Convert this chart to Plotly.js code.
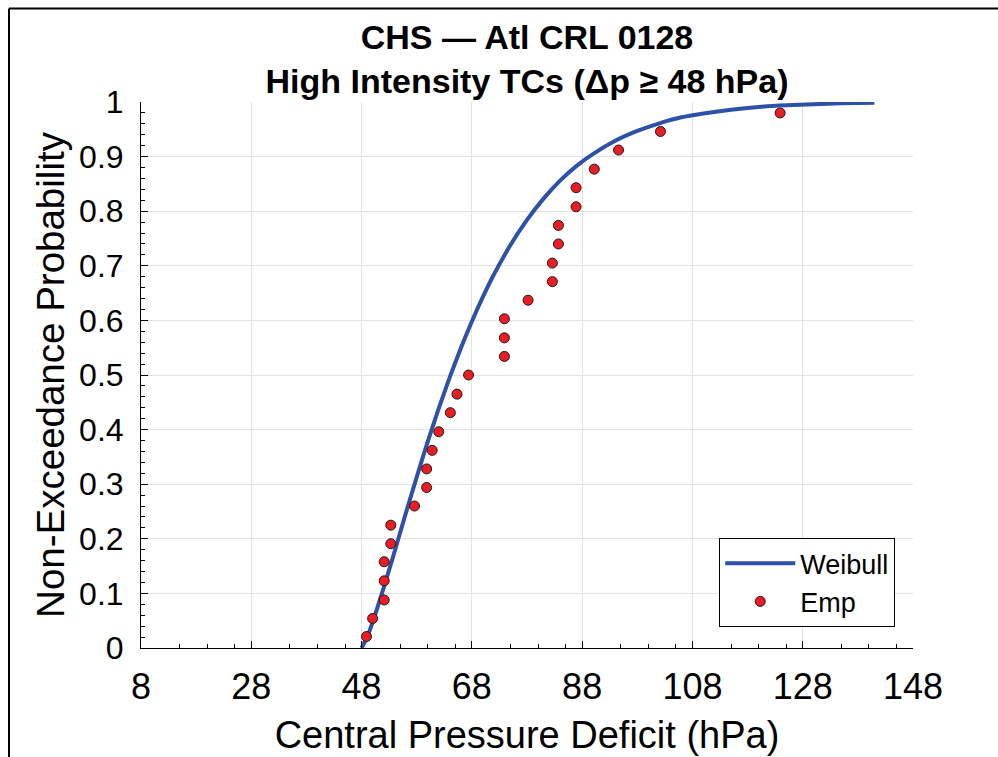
<!DOCTYPE html>
<html>
<head>
<meta charset="utf-8">
<script src="https://cdn.plot.ly/plotly-3.0.1.min.js"></script>
<style>
html,body{margin:0;padding:0;background:#fff;}
#chart{width:998px;height:757px;}
</style>
</head>
<body>
<div id="chart"></div>
<script>
// Empirical non-exceedance points (central pressure deficit, hPa)
const empX = [48.9, 50.0, 52.1, 52.1, 52.1, 53.3, 53.3, 57.6, 59.8, 59.8,
              60.8, 62.0, 64.1, 65.3, 67.4, 73.9, 73.9, 73.9, 78.2, 82.6,
              82.6, 83.7, 83.7, 86.9, 86.9, 90.2, 94.6, 102.2, 123.9];
const empY = [0.021, 0.054, 0.088, 0.123, 0.158, 0.191, 0.225, 0.260, 0.294, 0.328,
              0.362, 0.396, 0.431, 0.465, 0.500, 0.534, 0.568, 0.603, 0.637, 0.671,
              0.705, 0.740, 0.774, 0.808, 0.843, 0.877, 0.912, 0.946, 0.980];

// Fitted Weibull CDF
const weibX = [48, 49, 50, 52, 54, 56, 58, 60, 62, 64, 66, 68, 70, 72, 75, 78, 81, 84,
               87, 90, 94, 98, 102, 106, 110, 115, 120, 125, 130, 135, 141];
const weibY = [0, 0.020, 0.047, 0.110, 0.177, 0.246, 0.313, 0.378, 0.439, 0.496, 0.549,
               0.598, 0.643, 0.684, 0.738, 0.784, 0.823, 0.856, 0.883, 0.905, 0.929,
               0.947, 0.961, 0.972, 0.979, 0.986, 0.991, 0.994, 0.996, 0.9975, 0.9985];

const xTicks = [8, 28, 48, 68, 88, 108, 128, 148];
const xMinor = [15, 20, 25, 35, 40, 45, 55, 60, 65, 75, 80, 85, 95, 100, 105, 115, 120, 125, 135, 140, 145];
const yTicks = [0, 0.1, 0.2, 0.3, 0.4, 0.5, 0.6, 0.7, 0.8, 0.9, 1];
const yTickText = ['0', '0.1', '0.2', '0.3', '0.4', '0.5', '0.6', '0.7', '0.8', '0.9', '1'];

const FONT = 'Liberation Sans, Arial, Helvetica, sans-serif';

const traces = [
  {
    x: weibX, y: weibY, type: 'scatter', mode: 'lines', name: 'Weibull',
    line: {color: '#2d50a8', width: 4, shape: 'spline', smoothing: 0.6}
  },
  {
    x: empX, y: empY, type: 'scatter', mode: 'markers', name: 'Emp',
    marker: {color: '#ec1c24', size: 10, line: {color: '#1a1a1a', width: 1}}
  }
];

const layout = {
  width: 998, height: 757,
  margin: {l: 141, r: 85, t: 102, b: 109},
  paper_bgcolor: '#ffffff', plot_bgcolor: '#ffffff',
  font: {family: FONT, color: '#000'},
  showlegend: true,
  title: {
    text: '<b>CHS \u2014 Atl CRL 0128</b><br><b>High Intensity TCs (\u0394p \u2265 48 hPa)</b>',
    font: {family: FONT, size: 34, color: '#000'},
    x: 0.5, xref: 'paper', xanchor: 'center',
    y: 1 - 49 / 757, yref: 'container', yanchor: 'middle'
  },
  xaxis: {
    range: [8, 148], tickmode: 'array', tickvals: xTicks,
    ticks: 'inside', ticklen: 7, tickwidth: 1, tickcolor: '#000',
    showline: true, linecolor: '#000', linewidth: 1, mirror: false,
    showgrid: true, gridcolor: '#e3e3e3', gridwidth: 1, zeroline: false,
    tickfont: {family: FONT, size: 36, color: '#000'},
    ticklabelstandoff: 7,
    minor: {tickmode: 'array', tickvals: xMinor, ticks: 'inside', ticklen: 4, tickwidth: 1, tickcolor: '#000', showgrid: false},
    title: {text: 'Central Pressure Deficit (hPa)', font: {family: FONT, size: 38, color: '#000'}, standoff: 15}
  },
  yaxis: {
    range: [0, 1], tickmode: 'array', tickvals: yTicks, ticktext: yTickText,
    ticks: 'inside', ticklen: 7, tickwidth: 1, tickcolor: '#000',
    showline: true, linecolor: '#000', linewidth: 1, mirror: false,
    showgrid: true, gridcolor: '#e3e3e3', gridwidth: 1, zeroline: false,
    tickfont: {family: FONT, size: 32, color: '#000'},
    ticklabelstandoff: 10,
    minor: {dtick: 0.02, tick0: 0, ticks: 'inside', ticklen: 4, tickwidth: 1, tickcolor: '#000', showgrid: false},
    title: {text: 'Non-Exceedance Probability', font: {family: FONT, size: 38.5, color: '#000'}, standoff: 2}
  },
  legend: {
    x: 0.977, y: 0.038, xanchor: 'right', yanchor: 'bottom',
    bgcolor: '#ffffff', bordercolor: '#000', borderwidth: 1,
    font: {family: FONT, size: 27, color: '#000'},
    itemwidth: 70, tracegroupgap: 0
  },
  shapes: [
    {type: 'line', xref: 'paper', yref: 'paper', x0: (9 - 141) / 772, x1: (998 - 141) / 772,
     y0: (648 - 8.5) / 546, y1: (648 - 8.5) / 546, line: {color: '#000', width: 2}},
    {type: 'line', xref: 'paper', yref: 'paper', x0: (9 - 141) / 772, x1: (9 - 141) / 772,
     y0: (648 - 8.5) / 546, y1: (648 - 760) / 546, line: {color: '#000', width: 2}}
  ]
};

Plotly.newPlot('chart', traces, layout, {displayModeBar: false, staticPlot: true});
</script>
</body>
</html>
